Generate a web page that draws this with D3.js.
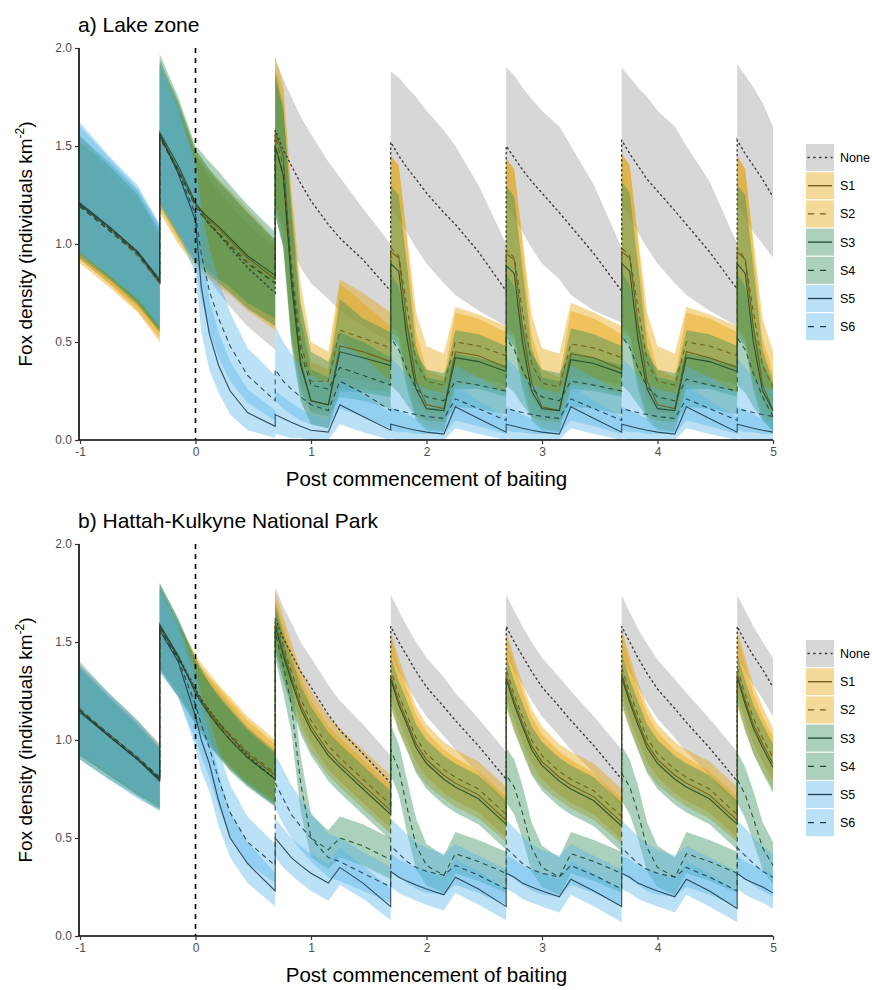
<!DOCTYPE html>
<html lang="en">
<head>
<meta charset="UTF-8" />
<title>Fox density scenarios</title>
<script src="https://d3js.org/d3.v7.min.js"></script>
<style>
  body { margin: 0; background: #fff; }
  text { font-family: "Liberation Sans", Arial, sans-serif; }
</style>
</head>
<body>
<svg id="chart" width="872" height="990"></svg>
<script>
// time since commencement of baiting (years); repeated values are the jumps
const years = [-1, -0.75, -0.5, -0.31, -0.31, -0.15, 0, 0.05, 0.12, 0.2, 0.3, 0.45, 0.69,
  0.69, 0.76, 0.83, 0.91, 1.0, 1.15, 1.15, 1.25, 1.45, 1.69,
  1.69, 1.76, 1.83, 1.91, 2.0, 2.15, 2.15, 2.25, 2.45, 2.69,
  2.69, 2.76, 2.83, 2.91, 3.0, 3.15, 3.15, 3.25, 3.45, 3.69,
  3.69, 3.76, 3.83, 3.91, 4.0, 4.15, 4.15, 4.25, 4.45, 4.69,
  4.69, 4.76, 4.83, 4.91, 5.0];

const scenarios = ["None", "S1", "S2", "S3", "S4", "S5", "S6"];
const xTicks = [-1, 0, 1, 2, 3, 4, 5];
const yTicks = [0, 0.5, 1, 1.5, 2];

// ---- a) Lake zone ----
const lakeNoneMid = [1.2, 1.08, 0.95, 0.8, 1.55, 1.38, 1.2, 1.16, 1.1, 1.05, 0.98, 0.88, 0.75,
  1.58, 1.48, 1.4, 1.31, 1.22, 1.1, 1.1, 1.03, 0.92, 0.76,
  1.52, 1.45, 1.39, 1.33, 1.26, 1.16, 1.16, 1.1, 0.96, 0.76,
  1.5, 1.44, 1.38, 1.32, 1.26, 1.16, 1.16, 1.09, 0.95, 0.76,
  1.53, 1.46, 1.4, 1.33, 1.27, 1.17, 1.17, 1.1, 0.96, 0.77,
  1.53, 1.46, 1.4, 1.33, 1.24];
const lakeNoneHi = [1.55, 1.4, 1.25, 1.05, 1.9, 1.7, 1.45, 1.4, 1.33, 1.27, 1.2, 1.1, 0.98,
  1.95, 1.84, 1.75, 1.65, 1.56, 1.42, 1.42, 1.34, 1.18, 1.0,
  1.88, 1.85, 1.8, 1.75, 1.68, 1.58, 1.58, 1.5, 1.3, 1.0,
  1.9, 1.86, 1.8, 1.74, 1.68, 1.6, 1.6, 1.5, 1.3, 0.98,
  1.9, 1.85, 1.8, 1.75, 1.68, 1.6, 1.6, 1.5, 1.32, 1.0,
  1.92, 1.86, 1.8, 1.72, 1.6];
const lakeNoneLo = [0.92, 0.8, 0.68, 0.55, 1.2, 1.05, 0.92, 0.88, 0.82, 0.75, 0.68, 0.58, 0.46,
  1.2, 1.1, 0.98, 0.88, 0.8, 0.72, 0.72, 0.66, 0.58, 0.5,
  1.18, 1.13, 1.06, 0.98, 0.9, 0.8, 0.8, 0.74, 0.66, 0.58,
  1.2, 1.14, 1.06, 0.98, 0.9, 0.82, 0.82, 0.74, 0.66, 0.6,
  1.2, 1.13, 1.06, 0.98, 0.9, 0.8, 0.8, 0.74, 0.66, 0.58,
  1.2, 1.13, 1.06, 1.0, 0.93];

const lakeS1Mid = [1.2, 1.08, 0.95, 0.8, 1.56, 1.38, 1.2, 1.17, 1.12, 1.08, 1.02, 0.93, 0.82,
  1.57, 1.45, 0.85, 0.4, 0.2, 0.18, 0.18, 0.48, 0.45, 0.4,
  0.96, 0.93, 0.6, 0.3, 0.18, 0.16, 0.16, 0.45, 0.43, 0.37,
  0.95, 0.92, 0.58, 0.29, 0.17, 0.15, 0.15, 0.44, 0.42, 0.36,
  0.96, 0.93, 0.6, 0.3, 0.18, 0.16, 0.16, 0.45, 0.42, 0.37,
  0.96, 0.92, 0.58, 0.28, 0.15];
const lakeS1Hi = [1.55, 1.4, 1.25, 1.05, 1.92, 1.72, 1.48, 1.44, 1.38, 1.33, 1.27, 1.18, 1.02,
  1.95, 1.82, 1.25, 0.7, 0.4, 0.36, 0.36, 0.8, 0.7, 0.58,
  1.45, 1.4, 1.02, 0.55, 0.36, 0.32, 0.32, 0.65, 0.62, 0.55,
  1.44, 1.38, 1.0, 0.54, 0.36, 0.32, 0.32, 0.66, 0.62, 0.54,
  1.46, 1.4, 1.02, 0.56, 0.36, 0.32, 0.32, 0.65, 0.62, 0.55,
  1.45, 1.38, 0.98, 0.52, 0.34];
const lakeS1Lo = [0.92, 0.8, 0.66, 0.52, 1.18, 1.02, 0.9, 0.88, 0.84, 0.8, 0.76, 0.68, 0.58,
  1.2, 1.05, 0.5, 0.2, 0.08, 0.06, 0.06, 0.26, 0.26, 0.24,
  0.55, 0.52, 0.3, 0.12, 0.06, 0.05, 0.05, 0.28, 0.28, 0.24,
  0.55, 0.52, 0.3, 0.12, 0.06, 0.05, 0.05, 0.28, 0.27, 0.23,
  0.56, 0.52, 0.3, 0.12, 0.06, 0.05, 0.05, 0.28, 0.28, 0.24,
  0.55, 0.5, 0.28, 0.12, 0.06];

const lakeS2Mid = [1.19, 1.07, 0.94, 0.8, 1.54, 1.37, 1.2, 1.16, 1.11, 1.06, 1.0, 0.91, 0.8,
  1.55, 1.4, 0.9, 0.5, 0.3, 0.3, 0.3, 0.56, 0.52, 0.47,
  0.98, 0.94, 0.68, 0.4, 0.3, 0.28, 0.28, 0.5, 0.48, 0.43,
  0.97, 0.93, 0.66, 0.39, 0.29, 0.27, 0.27, 0.49, 0.47, 0.42,
  0.98, 0.94, 0.68, 0.4, 0.3, 0.28, 0.28, 0.5, 0.48, 0.43,
  0.98, 0.92, 0.65, 0.38, 0.27];
const lakeS2Hi = [1.52, 1.38, 1.22, 1.04, 1.9, 1.7, 1.46, 1.42, 1.36, 1.31, 1.25, 1.16, 1.0,
  1.9, 1.78, 1.28, 0.8, 0.5, 0.45, 0.45, 0.82, 0.75, 0.65,
  1.45, 1.4, 1.05, 0.65, 0.48, 0.44, 0.44, 0.68, 0.64, 0.58,
  1.44, 1.38, 1.04, 0.64, 0.47, 0.44, 0.44, 0.7, 0.65, 0.58,
  1.46, 1.4, 1.05, 0.65, 0.48, 0.44, 0.44, 0.68, 0.64, 0.58,
  1.45, 1.38, 1.02, 0.62, 0.45];
const lakeS2Lo = [0.9, 0.78, 0.65, 0.5, 1.16, 1.0, 0.88, 0.86, 0.82, 0.78, 0.74, 0.66, 0.56,
  1.18, 1.0, 0.55, 0.28, 0.15, 0.15, 0.15, 0.32, 0.3, 0.28,
  0.58, 0.55, 0.35, 0.2, 0.14, 0.13, 0.13, 0.32, 0.32, 0.28,
  0.57, 0.54, 0.34, 0.2, 0.14, 0.13, 0.13, 0.32, 0.31, 0.28,
  0.58, 0.55, 0.35, 0.2, 0.14, 0.13, 0.13, 0.32, 0.32, 0.28,
  0.58, 0.52, 0.32, 0.18, 0.13];

const lakeS3Mid = [1.2, 1.09, 0.96, 0.82, 1.57, 1.4, 1.21, 1.17, 1.13, 1.09, 1.03, 0.94, 0.84,
  1.5, 1.35, 0.8, 0.38, 0.2, 0.18, 0.18, 0.45, 0.42, 0.38,
  0.9, 0.86, 0.52, 0.26, 0.16, 0.15, 0.15, 0.42, 0.4, 0.35,
  0.89, 0.85, 0.5, 0.25, 0.16, 0.15, 0.15, 0.41, 0.39, 0.34,
  0.9, 0.86, 0.52, 0.26, 0.16, 0.15, 0.15, 0.42, 0.4, 0.35,
  0.9, 0.85, 0.5, 0.25, 0.15];
const lakeS3Hi = [1.55, 1.42, 1.27, 1.08, 1.97, 1.75, 1.5, 1.47, 1.42, 1.37, 1.3, 1.2, 1.06,
  1.88, 1.7, 1.15, 0.62, 0.36, 0.32, 0.32, 0.72, 0.62, 0.55,
  1.3, 1.25, 0.9, 0.48, 0.32, 0.3, 0.3, 0.56, 0.54, 0.48,
  1.3, 1.24, 0.88, 0.47, 0.32, 0.3, 0.3, 0.57, 0.54, 0.48,
  1.32, 1.26, 0.9, 0.48, 0.32, 0.3, 0.3, 0.56, 0.54, 0.48,
  1.3, 1.25, 0.88, 0.46, 0.3];
const lakeS3Lo = [0.95, 0.83, 0.7, 0.56, 1.22, 1.06, 0.92, 0.9, 0.86, 0.82, 0.78, 0.7, 0.62,
  1.15, 0.98, 0.48, 0.2, 0.08, 0.06, 0.06, 0.25, 0.24, 0.22,
  0.52, 0.48, 0.26, 0.1, 0.05, 0.04, 0.04, 0.26, 0.26, 0.22,
  0.52, 0.48, 0.26, 0.1, 0.05, 0.04, 0.04, 0.26, 0.25, 0.22,
  0.52, 0.48, 0.26, 0.1, 0.05, 0.04, 0.04, 0.26, 0.26, 0.22,
  0.52, 0.48, 0.25, 0.1, 0.05];

const lakeS4Mid = [1.19, 1.07, 0.95, 0.81, 1.55, 1.38, 1.19, 1.15, 1.1, 1.05, 0.99, 0.9, 0.8,
  1.5, 1.35, 0.85, 0.45, 0.28, 0.26, 0.26, 0.37, 0.33, 0.28,
  0.52, 0.46, 0.36, 0.26, 0.22, 0.2, 0.2, 0.3, 0.28, 0.25,
  0.52, 0.46, 0.36, 0.26, 0.22, 0.2, 0.2, 0.3, 0.28, 0.25,
  0.53, 0.47, 0.37, 0.27, 0.22, 0.2, 0.2, 0.31, 0.28, 0.25,
  0.52, 0.46, 0.34, 0.22, 0.12];
const lakeS4Hi = [1.52, 1.4, 1.25, 1.06, 1.94, 1.73, 1.48, 1.44, 1.38, 1.32, 1.26, 1.16, 1.02,
  1.85, 1.68, 1.2, 0.7, 0.45, 0.4, 0.4, 0.55, 0.5, 0.42,
  0.85, 0.78, 0.6, 0.44, 0.36, 0.34, 0.34, 0.44, 0.42, 0.38,
  0.85, 0.78, 0.6, 0.44, 0.36, 0.34, 0.34, 0.45, 0.42, 0.38,
  0.86, 0.79, 0.6, 0.44, 0.36, 0.34, 0.34, 0.44, 0.42, 0.38,
  0.85, 0.78, 0.58, 0.4, 0.28];
const lakeS4Lo = [0.93, 0.82, 0.69, 0.55, 1.2, 1.04, 0.9, 0.88, 0.84, 0.8, 0.75, 0.67, 0.58,
  1.15, 0.98, 0.52, 0.25, 0.14, 0.12, 0.12, 0.22, 0.2, 0.16,
  0.28, 0.24, 0.18, 0.12, 0.1, 0.09, 0.09, 0.17, 0.16, 0.13,
  0.28, 0.24, 0.18, 0.12, 0.1, 0.09, 0.09, 0.17, 0.16, 0.13,
  0.28, 0.24, 0.18, 0.12, 0.1, 0.09, 0.09, 0.17, 0.16, 0.13,
  0.28, 0.24, 0.17, 0.1, 0.04];

const lakeS5Mid = [1.21, 1.09, 0.96, 0.81, 1.56, 1.36, 1.12, 0.78, 0.54, 0.38, 0.25, 0.14, 0.07,
  0.13, 0.11, 0.09, 0.07, 0.05, 0.04, 0.04, 0.18, 0.12, 0.05,
  0.08, 0.07, 0.06, 0.05, 0.04, 0.03, 0.03, 0.17, 0.11, 0.04,
  0.08, 0.07, 0.06, 0.05, 0.04, 0.03, 0.03, 0.17, 0.11, 0.04,
  0.08, 0.07, 0.06, 0.05, 0.04, 0.03, 0.03, 0.17, 0.11, 0.04,
  0.08, 0.07, 0.06, 0.05, 0.04];
const lakeS5Hi = [1.62, 1.45, 1.3, 1.1, 1.9, 1.68, 1.4, 1.02, 0.72, 0.55, 0.4, 0.26, 0.15,
  0.25, 0.22, 0.19, 0.16, 0.13, 0.11, 0.11, 0.3, 0.23, 0.14,
  0.17, 0.15, 0.13, 0.11, 0.1, 0.09, 0.09, 0.28, 0.2, 0.12,
  0.17, 0.15, 0.13, 0.11, 0.1, 0.09, 0.09, 0.28, 0.2, 0.12,
  0.17, 0.15, 0.13, 0.11, 0.1, 0.09, 0.09, 0.28, 0.2, 0.12,
  0.17, 0.15, 0.13, 0.11, 0.1];
const lakeS5Lo = [0.95, 0.84, 0.72, 0.58, 1.2, 1.05, 0.85, 0.55, 0.36, 0.24, 0.13, 0.05, 0.01,
  0.03, 0.02, 0.01, 0.01, 0, 0, 0, 0.08, 0.04, 0,
  0.01, 0, 0, 0, 0, 0, 0, 0.06, 0.03, 0,
  0.01, 0, 0, 0, 0, 0, 0, 0.06, 0.03, 0,
  0.01, 0, 0, 0, 0, 0, 0, 0.06, 0.03, 0,
  0.01, 0, 0, 0, 0];

const lakeS6Mid = [1.2, 1.08, 0.96, 0.81, 1.55, 1.37, 1.15, 0.95, 0.76, 0.62, 0.48, 0.33, 0.2,
  0.36, 0.3, 0.26, 0.22, 0.18, 0.15, 0.15, 0.3, 0.24, 0.15,
  0.16, 0.15, 0.14, 0.13, 0.12, 0.11, 0.11, 0.21, 0.16, 0.1,
  0.16, 0.15, 0.14, 0.13, 0.12, 0.11, 0.11, 0.21, 0.16, 0.1,
  0.16, 0.15, 0.14, 0.13, 0.12, 0.11, 0.11, 0.21, 0.16, 0.1,
  0.16, 0.15, 0.14, 0.13, 0.12];
const lakeS6Hi = [1.6, 1.44, 1.28, 1.1, 1.92, 1.7, 1.42, 1.2, 0.98, 0.82, 0.65, 0.47, 0.33,
  0.58, 0.5, 0.44, 0.38, 0.33, 0.29, 0.29, 0.5, 0.42, 0.3,
  0.42, 0.38, 0.33, 0.29, 0.26, 0.24, 0.24, 0.38, 0.32, 0.24,
  0.42, 0.38, 0.33, 0.29, 0.26, 0.24, 0.24, 0.38, 0.32, 0.24,
  0.42, 0.38, 0.33, 0.29, 0.26, 0.24, 0.24, 0.38, 0.32, 0.24,
  0.42, 0.37, 0.32, 0.28, 0.25];
const lakeS6Lo = [0.96, 0.84, 0.72, 0.58, 1.22, 1.06, 0.9, 0.72, 0.55, 0.42, 0.3, 0.19, 0.1,
  0.2, 0.16, 0.13, 0.1, 0.08, 0.06, 0.06, 0.16, 0.12, 0.06,
  0.05, 0.04, 0.04, 0.03, 0.03, 0.03, 0.03, 0.1, 0.07, 0.03,
  0.05, 0.04, 0.04, 0.03, 0.03, 0.03, 0.03, 0.1, 0.07, 0.03,
  0.05, 0.04, 0.04, 0.03, 0.03, 0.03, 0.03, 0.1, 0.07, 0.03,
  0.05, 0.04, 0.04, 0.03, 0.03];

// ---- b) Hattah-Kulkyne National Park ----
const hkNoneMid = [1.15, 1.02, 0.9, 0.8, 1.58, 1.43, 1.26, 1.21, 1.15, 1.09, 1.02, 0.92, 0.8,
  1.62, 1.52, 1.44, 1.35, 1.27, 1.13, 1.13, 1.05, 0.93, 0.78,
  1.58, 1.5, 1.43, 1.35, 1.27, 1.17, 1.17, 1.1, 0.97, 0.8,
  1.58, 1.5, 1.43, 1.35, 1.27, 1.17, 1.17, 1.1, 0.97, 0.8,
  1.58, 1.5, 1.42, 1.34, 1.26, 1.16, 1.16, 1.09, 0.96, 0.79,
  1.58, 1.5, 1.43, 1.36, 1.27];
const hkNoneHi = [1.38, 1.22, 1.08, 0.96, 1.78, 1.6, 1.42, 1.37, 1.31, 1.25, 1.18, 1.07, 0.95,
  1.78, 1.68, 1.6, 1.5, 1.42, 1.28, 1.28, 1.2, 1.08, 0.92,
  1.74, 1.66, 1.58, 1.5, 1.42, 1.32, 1.32, 1.24, 1.11, 0.94,
  1.74, 1.66, 1.58, 1.5, 1.42, 1.32, 1.32, 1.25, 1.12, 0.95,
  1.74, 1.65, 1.57, 1.49, 1.41, 1.31, 1.31, 1.24, 1.11, 0.94,
  1.74, 1.66, 1.58, 1.5, 1.42];
const hkNoneLo = [0.92, 0.82, 0.72, 0.66, 1.36, 1.24, 1.1, 1.05, 0.99, 0.93, 0.86, 0.77, 0.66,
  1.46, 1.36, 1.28, 1.2, 1.12, 0.98, 0.98, 0.9, 0.79, 0.65,
  1.43, 1.35, 1.28, 1.2, 1.12, 1.02, 1.02, 0.95, 0.83, 0.66,
  1.43, 1.35, 1.28, 1.2, 1.12, 1.02, 1.02, 0.95, 0.83, 0.66,
  1.42, 1.34, 1.27, 1.19, 1.11, 1.01, 1.01, 0.94, 0.82, 0.65,
  1.42, 1.35, 1.28, 1.21, 1.12];

const hkS1Mid = [1.15, 1.03, 0.91, 0.8, 1.58, 1.42, 1.25, 1.2, 1.14, 1.08, 1.02, 0.93, 0.82,
  1.6, 1.45, 1.32, 1.18, 1.07, 0.94, 0.94, 0.88, 0.77, 0.64,
  1.33, 1.2, 1.1, 0.98, 0.9, 0.82, 0.82, 0.78, 0.72, 0.59,
  1.33, 1.2, 1.09, 0.97, 0.89, 0.81, 0.81, 0.77, 0.71, 0.58,
  1.34, 1.21, 1.1, 0.98, 0.9, 0.82, 0.82, 0.78, 0.72, 0.59,
  1.34, 1.2, 1.08, 0.98, 0.88];
const hkS1Hi = [1.38, 1.23, 1.09, 0.97, 1.78, 1.6, 1.42, 1.37, 1.32, 1.27, 1.2, 1.1, 0.98,
  1.73, 1.59, 1.46, 1.32, 1.2, 1.07, 1.07, 1.01, 0.9, 0.77,
  1.53, 1.38, 1.26, 1.13, 1.04, 0.95, 0.95, 0.91, 0.84, 0.71,
  1.53, 1.38, 1.25, 1.12, 1.03, 0.94, 0.94, 0.9, 0.83, 0.7,
  1.54, 1.39, 1.26, 1.13, 1.04, 0.95, 0.95, 0.91, 0.84, 0.71,
  1.54, 1.38, 1.24, 1.12, 1.02];
const hkS1Lo = [0.92, 0.82, 0.73, 0.65, 1.36, 1.22, 1.08, 1.04, 0.98, 0.92, 0.86, 0.78, 0.68,
  1.47, 1.32, 1.19, 1.05, 0.94, 0.82, 0.82, 0.76, 0.65, 0.52,
  1.16, 1.04, 0.95, 0.84, 0.77, 0.7, 0.7, 0.66, 0.6, 0.48,
  1.16, 1.04, 0.94, 0.83, 0.76, 0.69, 0.69, 0.65, 0.59, 0.47,
  1.17, 1.05, 0.95, 0.84, 0.77, 0.7, 0.7, 0.66, 0.6, 0.48,
  1.17, 1.04, 0.93, 0.84, 0.75];

const hkS2Mid = [1.16, 1.03, 0.91, 0.81, 1.57, 1.42, 1.26, 1.21, 1.15, 1.09, 1.03, 0.94, 0.83,
  1.62, 1.48, 1.35, 1.21, 1.1, 0.97, 0.97, 0.91, 0.8, 0.67,
  1.36, 1.23, 1.13, 1.01, 0.93, 0.85, 0.85, 0.81, 0.75, 0.62,
  1.36, 1.23, 1.12, 1.0, 0.92, 0.84, 0.84, 0.8, 0.74, 0.61,
  1.37, 1.24, 1.13, 1.01, 0.93, 0.85, 0.85, 0.81, 0.75, 0.62,
  1.37, 1.23, 1.11, 1.01, 0.91];
const hkS2Hi = [1.39, 1.24, 1.1, 0.98, 1.77, 1.6, 1.44, 1.39, 1.34, 1.28, 1.22, 1.12, 1.0,
  1.76, 1.63, 1.5, 1.36, 1.25, 1.12, 1.12, 1.06, 0.95, 0.82,
  1.56, 1.42, 1.3, 1.17, 1.08, 0.99, 0.99, 0.95, 0.89, 0.76,
  1.56, 1.42, 1.29, 1.16, 1.07, 0.98, 0.98, 0.94, 0.88, 0.75,
  1.57, 1.43, 1.3, 1.17, 1.08, 0.99, 0.99, 0.95, 0.89, 0.76,
  1.57, 1.42, 1.28, 1.17, 1.06];
const hkS2Lo = [0.93, 0.82, 0.72, 0.66, 1.36, 1.23, 1.09, 1.05, 0.99, 0.93, 0.87, 0.79, 0.69,
  1.5, 1.36, 1.23, 1.09, 0.98, 0.85, 0.85, 0.79, 0.68, 0.55,
  1.22, 1.1, 1.0, 0.89, 0.81, 0.73, 0.73, 0.69, 0.63, 0.5,
  1.22, 1.1, 0.99, 0.88, 0.8, 0.72, 0.72, 0.68, 0.62, 0.49,
  1.23, 1.11, 1.0, 0.89, 0.81, 0.73, 0.73, 0.69, 0.63, 0.5,
  1.23, 1.1, 0.98, 0.89, 0.79];

const hkS3Mid = [1.14, 1.02, 0.9, 0.79, 1.59, 1.43, 1.24, 1.19, 1.13, 1.07, 1.0, 0.91, 0.8,
  1.58, 1.43, 1.3, 1.16, 1.05, 0.92, 0.92, 0.86, 0.75, 0.62,
  1.31, 1.18, 1.08, 0.96, 0.88, 0.8, 0.8, 0.76, 0.7, 0.57,
  1.31, 1.18, 1.07, 0.95, 0.87, 0.79, 0.79, 0.75, 0.69, 0.56,
  1.32, 1.19, 1.08, 0.96, 0.88, 0.8, 0.8, 0.76, 0.7, 0.57,
  1.32, 1.18, 1.06, 0.96, 0.86];
const hkS3Hi = [1.36, 1.22, 1.07, 0.95, 1.8, 1.62, 1.4, 1.35, 1.29, 1.23, 1.16, 1.06, 0.94,
  1.7, 1.55, 1.42, 1.28, 1.17, 1.04, 1.04, 0.98, 0.87, 0.74,
  1.43, 1.3, 1.2, 1.08, 1.0, 0.92, 0.92, 0.88, 0.82, 0.69,
  1.43, 1.3, 1.19, 1.07, 0.99, 0.91, 0.91, 0.87, 0.81, 0.68,
  1.44, 1.31, 1.2, 1.08, 1.0, 0.92, 0.92, 0.88, 0.82, 0.69,
  1.44, 1.3, 1.18, 1.08, 0.98];
const hkS3Lo = [0.9, 0.8, 0.71, 0.64, 1.37, 1.24, 1.08, 1.03, 0.97, 0.91, 0.84, 0.76, 0.66,
  1.45, 1.3, 1.17, 1.03, 0.92, 0.79, 0.79, 0.73, 0.62, 0.49,
  1.18, 1.05, 0.95, 0.83, 0.75, 0.67, 0.67, 0.63, 0.57, 0.44,
  1.18, 1.05, 0.94, 0.82, 0.74, 0.66, 0.66, 0.62, 0.56, 0.43,
  1.19, 1.06, 0.95, 0.83, 0.75, 0.67, 0.67, 0.63, 0.57, 0.44,
  1.19, 1.05, 0.93, 0.83, 0.73];

const hkS4Mid = [1.15, 1.02, 0.9, 0.8, 1.58, 1.42, 1.25, 1.2, 1.13, 1.07, 1.0, 0.91, 0.8,
  1.55, 1.38, 1.18, 0.78, 0.5, 0.44, 0.44, 0.5, 0.46, 0.39,
  0.95, 0.85, 0.66, 0.46, 0.36, 0.31, 0.31, 0.42, 0.38, 0.32,
  0.82, 0.76, 0.63, 0.45, 0.35, 0.3, 0.3, 0.42, 0.38, 0.32,
  0.83, 0.76, 0.63, 0.45, 0.35, 0.3, 0.3, 0.42, 0.38, 0.32,
  0.8, 0.72, 0.6, 0.45, 0.36];
const hkS4Hi = [1.37, 1.22, 1.08, 0.96, 1.8, 1.62, 1.42, 1.36, 1.29, 1.22, 1.15, 1.05, 0.93,
  1.68, 1.52, 1.32, 0.92, 0.62, 0.54, 0.54, 0.61, 0.57, 0.5,
  1.08, 0.98, 0.8, 0.6, 0.47, 0.41, 0.41, 0.53, 0.49, 0.43,
  0.96, 0.9, 0.77, 0.58, 0.46, 0.4, 0.4, 0.53, 0.49, 0.43,
  0.97, 0.9, 0.77, 0.58, 0.46, 0.4, 0.4, 0.53, 0.49, 0.43,
  0.94, 0.86, 0.74, 0.58, 0.48];
const hkS4Lo = [0.92, 0.82, 0.72, 0.65, 1.36, 1.22, 1.08, 1.04, 0.97, 0.92, 0.85, 0.77, 0.67,
  1.42, 1.24, 1.04, 0.64, 0.4, 0.34, 0.34, 0.4, 0.36, 0.29,
  0.82, 0.72, 0.53, 0.34, 0.26, 0.22, 0.22, 0.32, 0.28, 0.22,
  0.68, 0.62, 0.5, 0.33, 0.25, 0.21, 0.21, 0.32, 0.28, 0.22,
  0.69, 0.62, 0.5, 0.33, 0.25, 0.21, 0.21, 0.32, 0.28, 0.22,
  0.68, 0.6, 0.48, 0.34, 0.26];

const hkS5Mid = [1.15, 1.02, 0.9, 0.8, 1.56, 1.4, 1.12, 1.0, 0.88, 0.69, 0.5, 0.37, 0.23,
  0.5, 0.45, 0.4, 0.36, 0.32, 0.27, 0.27, 0.35, 0.27, 0.15,
  0.33, 0.3, 0.28, 0.26, 0.24, 0.21, 0.21, 0.3, 0.24, 0.15,
  0.32, 0.3, 0.27, 0.25, 0.23, 0.2, 0.2, 0.29, 0.23, 0.15,
  0.32, 0.3, 0.27, 0.25, 0.23, 0.2, 0.2, 0.29, 0.23, 0.14,
  0.32, 0.29, 0.27, 0.25, 0.22];
const hkS5Hi = [1.4, 1.24, 1.1, 0.96, 1.76, 1.58, 1.3, 1.17, 1.03, 0.83, 0.63, 0.48, 0.32,
  0.6, 0.55, 0.5, 0.46, 0.42, 0.37, 0.37, 0.45, 0.36, 0.24,
  0.42, 0.39, 0.37, 0.35, 0.33, 0.3, 0.3, 0.39, 0.33, 0.24,
  0.41, 0.39, 0.36, 0.34, 0.32, 0.29, 0.29, 0.38, 0.32, 0.24,
  0.41, 0.39, 0.36, 0.34, 0.32, 0.29, 0.29, 0.38, 0.32, 0.23,
  0.41, 0.38, 0.36, 0.34, 0.31];
const hkS5Lo = [0.9, 0.8, 0.7, 0.64, 1.34, 1.22, 0.96, 0.84, 0.74, 0.56, 0.4, 0.27, 0.15,
  0.4, 0.35, 0.31, 0.27, 0.23, 0.18, 0.18, 0.26, 0.19, 0.08,
  0.25, 0.22, 0.2, 0.18, 0.16, 0.13, 0.13, 0.22, 0.16, 0.08,
  0.24, 0.22, 0.19, 0.17, 0.15, 0.12, 0.12, 0.21, 0.15, 0.07,
  0.24, 0.22, 0.19, 0.17, 0.15, 0.12, 0.12, 0.21, 0.15, 0.07,
  0.24, 0.21, 0.19, 0.17, 0.14];

const hkS6Mid = [1.15, 1.03, 0.91, 0.81, 1.57, 1.41, 1.18, 1.08, 0.96, 0.8, 0.63, 0.48, 0.36,
  0.78, 0.7, 0.62, 0.56, 0.5, 0.4, 0.4, 0.38, 0.32, 0.25,
  0.46, 0.42, 0.38, 0.35, 0.33, 0.31, 0.31, 0.36, 0.31, 0.24,
  0.45, 0.41, 0.37, 0.34, 0.32, 0.3, 0.3, 0.36, 0.31, 0.24,
  0.45, 0.41, 0.37, 0.34, 0.32, 0.3, 0.3, 0.35, 0.3, 0.23,
  0.45, 0.41, 0.37, 0.33, 0.3];
const hkS6Hi = [1.38, 1.24, 1.1, 0.98, 1.78, 1.6, 1.35, 1.24, 1.11, 0.95, 0.77, 0.61, 0.47,
  0.93, 0.85, 0.77, 0.7, 0.63, 0.52, 0.52, 0.5, 0.43, 0.35,
  0.6, 0.56, 0.52, 0.48, 0.45, 0.42, 0.42, 0.47, 0.41, 0.34,
  0.59, 0.55, 0.51, 0.47, 0.44, 0.41, 0.41, 0.47, 0.41, 0.34,
  0.59, 0.55, 0.51, 0.47, 0.44, 0.41, 0.41, 0.46, 0.4, 0.33,
  0.59, 0.55, 0.5, 0.46, 0.42];
const hkS6Lo = [0.93, 0.83, 0.73, 0.66, 1.36, 1.22, 1.0, 0.92, 0.81, 0.66, 0.5, 0.37, 0.27,
  0.65, 0.57, 0.5, 0.44, 0.38, 0.3, 0.3, 0.28, 0.23, 0.17,
  0.33, 0.3, 0.27, 0.24, 0.22, 0.21, 0.21, 0.26, 0.22, 0.16,
  0.32, 0.29, 0.26, 0.23, 0.21, 0.2, 0.2, 0.26, 0.22, 0.16,
  0.32, 0.29, 0.26, 0.23, 0.21, 0.2, 0.2, 0.25, 0.21, 0.15,
  0.32, 0.29, 0.26, 0.23, 0.2];

// styles per scenario
const bandFill = { None: "#bdbdbd", S1: "#E69F00", S2: "#E69F00", S3: "#2E8B57", S4: "#2E8B57", S5: "#56B4E9", S6: "#56B4E9" };
const bandOpacity = { None: 0.6, S1: 0.4, S2: 0.4, S3: 0.4, S4: 0.4, S5: 0.4, S6: 0.4 };
const lineColor = { None: "#3a3a3a", S1: "#6e5a14", S2: "#6e5a14", S3: "#1f4a2c", S4: "#1f4a2c", S5: "#1f3d4d", S6: "#1f3d4d" };
const lineDash = { None: "1.3,3.6", S1: null, S2: "5,4", S3: null, S4: "5,4", S5: null, S6: "5,4" };

const panels = [
  { title: "a) Lake zone", top: 48,
    series: { None: [lakeNoneMid, lakeNoneLo, lakeNoneHi], S1: [lakeS1Mid, lakeS1Lo, lakeS1Hi], S2: [lakeS2Mid, lakeS2Lo, lakeS2Hi],
              S3: [lakeS3Mid, lakeS3Lo, lakeS3Hi], S4: [lakeS4Mid, lakeS4Lo, lakeS4Hi], S5: [lakeS5Mid, lakeS5Lo, lakeS5Hi], S6: [lakeS6Mid, lakeS6Lo, lakeS6Hi] } },
  { title: "b) Hattah-Kulkyne National Park", top: 544,
    series: { None: [hkNoneMid, hkNoneLo, hkNoneHi], S1: [hkS1Mid, hkS1Lo, hkS1Hi], S2: [hkS2Mid, hkS2Lo, hkS2Hi],
              S3: [hkS3Mid, hkS3Lo, hkS3Hi], S4: [hkS4Mid, hkS4Lo, hkS4Hi], S5: [hkS5Mid, hkS5Lo, hkS5Hi], S6: [hkS6Mid, hkS6Lo, hkS6Hi] } }
];

const svg = d3.select("#chart");
const plotLeft = 80, plotRight = 773, plotH = 392;
const x = d3.scaleLinear().domain([-1, 5]).range([plotLeft, plotRight]);

panels.forEach(p => {
  const y = d3.scaleLinear().domain([0, 2]).range([p.top + plotH, p.top]);
  const g = svg.append("g");

  const rows = years.map((t, i) => ({ t, i }));
  const area = (lo, hi) => d3.area().x(d => x(d.t)).y0(d => y(lo[d.i])).y1(d => y(hi[d.i]));
  const line = mid => d3.line().x(d => x(d.t)).y(d => y(mid[d.i]));

  // bands
  scenarios.forEach(s => {
    const [mid, lo, hi] = p.series[s];
    g.append("path").attr("d", area(lo, hi)(rows))
      .attr("fill", bandFill[s]).attr("fill-opacity", bandOpacity[s]).attr("stroke", "none");
  });
  // mean lines
  scenarios.forEach(s => {
    const [mid] = p.series[s];
    const ln = g.append("path").attr("d", line(mid)(rows))
      .attr("fill", "none").attr("stroke", lineColor[s])
      .attr("stroke-width", s === "None" ? 1.4 : 1.1)
      .attr("stroke-opacity", s === "None" ? 1 : 0.9);
    if (lineDash[s]) ln.attr("stroke-dasharray", lineDash[s]);
    if (s === "None") ln.attr("stroke-linecap", "round");
  });

  // baiting start
  g.append("line").attr("x1", x(0)).attr("x2", x(0)).attr("y1", y(2)).attr("y2", y(0))
    .attr("stroke", "#000").attr("stroke-width", 1.6).attr("stroke-dasharray", "5,5");

  // axes
  const yAxis = g.append("g").attr("transform", `translate(${plotLeft - 1},0)`)
    .call(d3.axisLeft(y).tickValues(yTicks).tickFormat(d3.format(".1f")).tickSize(4).tickSizeOuter(0));
  const xAxis = g.append("g").attr("transform", `translate(0,${p.top + plotH})`)
    .call(d3.axisBottom(x).tickValues(xTicks).tickFormat(d => String(d)).tickSize(4).tickSizeOuter(0));
  [yAxis, xAxis].forEach(a => {
    a.select(".domain").attr("stroke", "#000").attr("stroke-width", 1.6);
    a.selectAll(".tick line").attr("stroke", "#333").attr("stroke-width", 1.2);
    a.selectAll(".tick text").attr("fill", "#4d4d4d").style("font-size", "12px");
  });
  xAxis.select(".domain").attr("d", `M${plotLeft - 1},0H${plotRight}`);
  yAxis.select(".domain").attr("d", `M0,${p.top + plotH}V${p.top}`);

  // titles
  g.append("text").attr("x", 78).attr("y", p.top - 16).text(p.title)
    .style("font-size", "21px").attr("fill", "#000");
  g.append("text").attr("x", (plotLeft + plotRight) / 2).attr("y", p.top + plotH + 46)
    .attr("text-anchor", "middle").style("font-size", "20.5px").attr("fill", "#000")
    .text("Post commencement of baiting");
  const yl = g.append("text")
    .attr("transform", `translate(32,${p.top + plotH / 2}) rotate(-90)`)
    .attr("text-anchor", "middle").style("font-size", "19px").attr("fill", "#000");
  yl.append("tspan").text("Fox density (individuals km");
  yl.append("tspan").attr("dy", -8).style("font-size", "12px").text("-2");
  yl.append("tspan").attr("dy", 8).text(")");

  // legend
  const lg = g.append("g").attr("transform", `translate(806,${p.top + 96})`);
  scenarios.forEach((s, k) => {
    const row = lg.append("g").attr("transform", `translate(0,${k * 28.2})`);
    row.append("rect").attr("x", 0).attr("y", 0).attr("width", 28).attr("height", 27)
      .attr("fill", bandFill[s]).attr("fill-opacity", bandOpacity[s]);
    const ln = row.append("line").attr("x1", 2).attr("x2", 26).attr("y1", 13.5).attr("y2", 13.5)
      .attr("stroke", lineColor[s]).attr("stroke-width", s === "None" ? 1.4 : 1.3);
    if (lineDash[s]) ln.attr("stroke-dasharray", s === "None" ? "1.3,4.5" : "6,6");
    if (s === "None") ln.attr("stroke-linecap", "round");
    row.append("text").attr("x", 34).attr("y", 18).style("font-size", "12.5px").attr("fill", "#000").text(s);
  });
});
</script>
</body>
</html>
